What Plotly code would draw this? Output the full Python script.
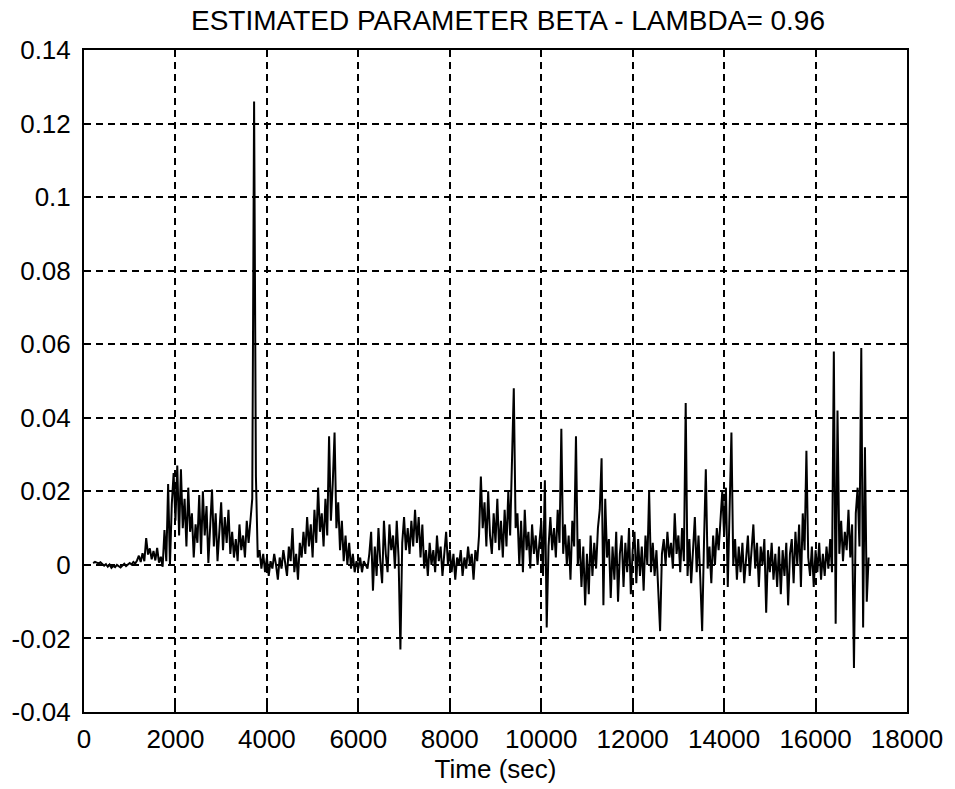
import plotly.graph_objects as go

# Sample times (sec): 200, 240, ..., 17160
t_start = 200
t_step = 40

# Estimated beta values, in units of 1e-3, read chunk by chunk (25 samples = 1000 s each)
beta_milli = (
    # 200 - 1160
    [0.5, 0.8, 0.6, 0.4, 0.7, 0.3, -0.2, 0.2, -0.5, 0.1, -0.8, -0.3, -0.6, 0.0, -0.4, -0.7, -0.2, 0.3, -0.3, 0.2, 0.5, 0.1, 0.8, 0.4, 1.2]
    # 1200 - 2160
    + [2.5, 0.8, 3.2, 1.0, 7.3, 2.8, 4.5, 1.5, 3.8, 1.2, 4.6, 0.6, 2.2, -0.5, 9.5, 1.0, 22.0, 0.0, 16.5, 25.0, 12.0, 27.0, 8.0, 26.0, 10.0]
    # 2200 - 3160
    + [18, 5, 21, 9, 14, 2, 11, 6, 19, 3, 20, 8, 16, 0.5, 12, 20.5, 5, 14, 1, 10, 17, 4, 13, 6, 15]
    # 3200 - 4160
    + [3, 9, 2, 7, 1, 11, 4, 8, 2, 12, 6, 12, 18, 126, 24, 2, 4, -1, 3, -2, 2, -3, 1, -1, 3]
    # 4200 - 5160
    + [0, -4, 2, -1, 4, 0, -3, 5, 1, 10, -2, 3, -4, 6, 2, 9, 3, 13, 5, 11, 2, 15, 6, 21, 9]
    # 5200 - 6160
    + [14, 5, 18, 8, 35, 12, 22, 36, 10, 17, 4, 12, 1, 8, 0, 6, -1, 3, -2, 1, -1, 2, -2, 1, 0]
    # 6200 - 7160
    + [-1, 3, 9, -7, 5, -3, 10, 1, -5, 12, 3, -2, 11, 4, 8, -1, 12, 2, -23, 6, 13, 4, 10, 3, 12]
    # 7200 - 8160
    + [5, 15, 6, 13, 2, 11, -1, 4, -3, 6, 0, 4, -2, 8, 1, 5, -3, 3, 9, 0, 4, -2, 3, -4, 2]
    # 8200 - 9160
    + [0, 4, -3, 2, -1, 5, 0, 3, -4, 4, 1, 8, 24, 10, 17, 5, 20, 8, 3, 14, 6, 18, 4, 12, 2]
    # 9200 - 10160
    + [15, 5, 20, 8, 30, 48, 10, 14, 0, 12, -2, 15, 4, 9, -1, 11, 3, 8, 0, 6, 12, -3, 23, -17, 5]
    # 10200 - 11160
    + [13, 4, 10, 2, 15, 6, 37, 3, 11, 0, 8, -4, 12, 5, 35, 0, 7, -6, 5, -11, 3, -8, 8, -3, 6]
    # 11200 - 12160
    + [-1, 10, 15, 29, -11, 18, 2, 7, -9, 5, -4, 9, -10, 3, 8, -6, 6, -2, 10, -8, 4, 9, -5, 7, -3]
    # 12200 - 13160
    + [5, -7, 8, 0, 20, -2, 6, -3, 4, -8, -18, 3, 7, 0, 9, 2, 6, -1, 14, 3, 8, -2, 10, 1, 44]
    # 13200 - 14160
    + [-3, 7, -5, 5, 13, -2, 8, -4, -18, 6, 26, -1, 5, -5, 8, 0, 10, 4, 14, 20, 8, 21, -6, 12, 36]
    # 14200 - 15160
    + [0, 7, -4, 5, -2, 6, -5, 3, 8, -3, 4, 11, -1, 6, -6, 5, 0, 7, -13, 4, -2, 6, -4, 3, -6]
    # 15200 - 16160
    + [5, -8, 4, -3, 6, -11, 3, 7, -5, 9, 0, 11, -6, 14, 4, 31, 2, -3, 5, -6, 4, -2, 6, -4, 3]
    # 16200 - 17160
    + [-3, 5, -1, 7, -2, 58, -16, 42, 3, 12, 1, 9, 4, 15, 2, 11, -28, 14, 21, 5, 59, -17, 32, -10, 2]
)

time_sec = [t_start + t_step * i for i in range(len(beta_milli))]
beta = [v / 1000.0 for v in beta_milli]

x_tickvals = [0, 2000, 4000, 6000, 8000, 10000, 12000, 14000, 16000, 18000]
x_ticktext = ["0", "2000", "4000", "6000", "8000", "10000", "12000", "14000", "16000", "18000"]
y_tickvals = [-0.04, -0.02, 0, 0.02, 0.04, 0.06, 0.08, 0.1, 0.12, 0.14]
y_ticktext = ["-0.04", "-0.02", "0", "0.02", "0.04", "0.06", "0.08", "0.1", "0.12", "0.14"]

title_text = "ESTIMATED PARAMETER BETA - LAMBDA= 0.96"
x_label = "Time (sec)"

FONT = "Liberation Sans, Arial, sans-serif"

fig = go.Figure()
fig.add_trace(go.Scatter(
    x=time_sec, y=beta, mode="lines",
    line=dict(color="black", width=2),
    showlegend=False,
))

axis_common = dict(
    showline=True, linecolor="black", linewidth=2, mirror="ticks",
    ticks="inside", ticklen=7, tickwidth=1.5, tickcolor="black",
    showgrid=True, gridcolor="black", gridwidth=1.8, griddash="7px,5px",
    zeroline=False,
    tickfont=dict(family=FONT, size=26, color="black"),
)

fig.update_layout(
    width=955, height=789,
    margin=dict(l=82, r=42, t=50, b=77),
    paper_bgcolor="white", plot_bgcolor="white",
    title=dict(
        text=title_text, x=508 / 955, xanchor="center",
        y=1 - 20 / 789, yanchor="middle", yref="container",
        font=dict(family=FONT, size=28, color="black"),
    ),
    xaxis=dict(
        range=[0, 18000], tickvals=x_tickvals, ticktext=x_ticktext,
        title=dict(text=x_label, font=dict(family=FONT, size=26, color="black"), standoff=2),
        ticklabelstandoff=3,
        **axis_common,
    ),
    yaxis=dict(
        range=[-0.04, 0.14], tickvals=y_tickvals, ticktext=y_ticktext,
        ticklabelstandoff=6,
        **axis_common,
    ),
)

fig.write_html("out.html")
